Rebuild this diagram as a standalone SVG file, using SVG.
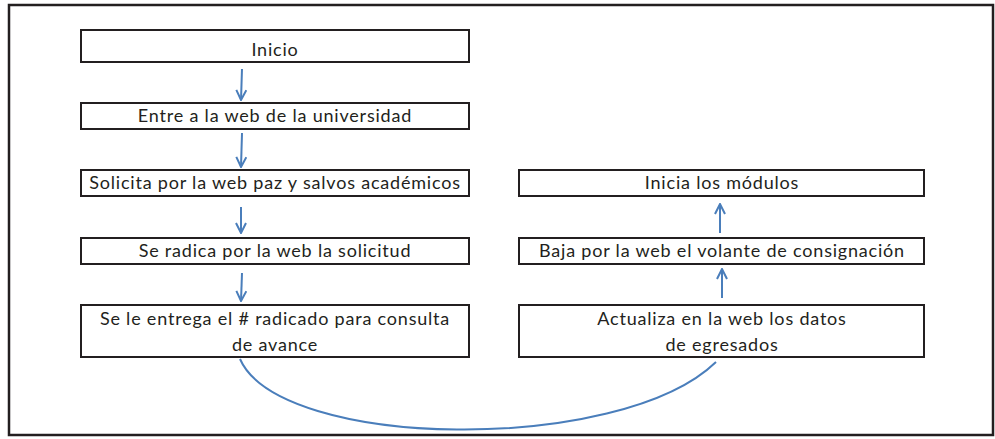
<svg xmlns="http://www.w3.org/2000/svg" width="995" height="439" viewBox="0 0 995 439">
<style>
.box{fill:#fff;stroke:#231f20;stroke-width:2}
.t{font-family:Lato,"Open Sans",sans-serif;font-size:18px;letter-spacing:0.8px;fill:#231f20;text-anchor:middle}
.c{fill:none;stroke:#4a7ebb;stroke-width:2}
</style>
<defs>
<marker id="ah" viewBox="0 0 12 12" refX="11" refY="6" markerWidth="12" markerHeight="12" markerUnits="userSpaceOnUse" orient="auto">
<path d="M1,1 L11,6 L1,11" fill="none" stroke="#4a7ebb" stroke-width="2"/>
</marker>
</defs>
<rect x="9" y="5" width="984" height="430" fill="#fff" stroke="#231f20" stroke-width="2.5"/>
<g id="n1"><rect class="box" x="81" y="30" width="388" height="32"/><text class="t" x="275" y="56">Inicio</text></g>
<g id="n2"><rect class="box" x="81" y="103" width="388" height="26"/><text class="t" x="275" y="122">Entre a la web de la universidad</text></g>
<g id="n3"><rect class="box" x="81" y="170" width="388" height="26"/><text class="t" x="275" y="189">Solicita por la web paz y salvos académicos</text></g>
<g id="n4"><rect class="box" x="81" y="238" width="388" height="26"/><text class="t" x="275" y="257">Se radica por la web la solicitud</text></g>
<g id="n5"><rect class="box" x="81" y="305" width="388" height="52"/><text class="t" x="275" y="325">Se le entrega el # radicado para consulta</text><text class="t" x="275" y="351">de avance</text></g>
<g id="n6"><rect class="box" x="519" y="305" width="405" height="52"/><text class="t" x="722" y="325">Actualiza en la web los datos</text><text class="t" x="722" y="351">de egresados</text></g>
<g id="n7"><rect class="box" x="519" y="238" width="405" height="26"/><text class="t" x="722" y="257">Baja por la web el volante de consignación</text></g>
<g id="n8"><rect class="box" x="519" y="170" width="405" height="26"/><text class="t" x="722" y="189">Inicia los módulos</text></g>
<g id="connectors">
<path class="c" d="M242,69 L241,100" marker-end="url(#ah)"/>
<path class="c" d="M242,133 L241,167" marker-end="url(#ah)"/>
<path class="c" d="M241,207 L241,233" marker-end="url(#ah)"/>
<path class="c" d="M242,273 L241,301" marker-end="url(#ah)"/>
<path class="c" d="M240,359 C280,450 620,455 716,362"/>
<path class="c" d="M722,298 L722,269" marker-end="url(#ah)"/>
<path class="c" d="M720,233 L720,204" marker-end="url(#ah)"/>
</g>
</svg>
